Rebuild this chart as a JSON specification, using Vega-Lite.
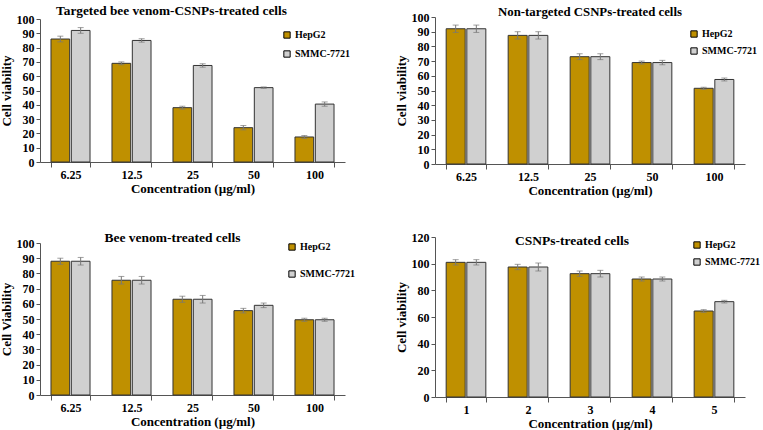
{
  "$schema": "https://vega.github.io/schema/vega-lite/v6.json",
  "background": "white",
  "padding": {"left": 0, "top": 3, "right": 3, "bottom": 1},
  "config": {
    "font": "Liberation Serif",
    "view": {"stroke": null},
    "axis": {"labelFont": "Liberation Serif", "labelFontWeight": "bold", "labelFontSize": 12, "labelColor": "#000", "titleFont": "Liberation Serif", "titleFontWeight": "bold", "titleFontSize": 13, "titleColor": "#000", "domainColor": "#555", "tickColor": "#555", "grid": false, "labelOverlap": false},
    "axisX": {"labelAngle": 0, "tickBand": "extent", "tickSize": 5, "labelPadding": 2, "titlePadding": 2},
    "axisY": {"tickSize": 4, "titlePadding": 3, "labelPadding": 2},
    "title": {"font": "Liberation Serif", "fontWeight": "bold", "fontSize": 13.5, "color": "#000"},
    "legend": {"labelFont": "Liberation Serif", "labelFontWeight": "bold", "labelFontSize": 10, "labelColor": "#000", "symbolType": "square", "symbolSize": 40, "symbolStrokeColor": "#000", "symbolStrokeWidth": 1, "title": null, "orient": "none", "labelOffset": 3}
  },
  "datasets": {
    "p1": [
      {"conc": "6.25", "cell": "HepG2", "v": 86, "lo": 84, "hi": 88},
      {"conc": "6.25", "cell": "SMMC-7721", "v": 92, "lo": 90, "hi": 94},
      {"conc": "12.5", "cell": "HepG2", "v": 69, "lo": 68, "hi": 70},
      {"conc": "12.5", "cell": "SMMC-7721", "v": 85, "lo": 83.8, "hi": 86.2},
      {"conc": "25", "cell": "HepG2", "v": 38, "lo": 37, "hi": 39},
      {"conc": "25", "cell": "SMMC-7721", "v": 67.5, "lo": 66.3, "hi": 68.7},
      {"conc": "50", "cell": "HepG2", "v": 24, "lo": 22.5, "hi": 25.5},
      {"conc": "50", "cell": "SMMC-7721", "v": 52, "lo": 51.5, "hi": 52.5},
      {"conc": "100", "cell": "HepG2", "v": 17.5, "lo": 16.5, "hi": 18.5},
      {"conc": "100", "cell": "SMMC-7721", "v": 40.5, "lo": 39, "hi": 42}
    ],
    "p2": [
      {"conc": "6.25", "cell": "HepG2", "v": 92, "lo": 89.5, "hi": 94.5},
      {"conc": "6.25", "cell": "SMMC-7721", "v": 92, "lo": 89.5, "hi": 94.5},
      {"conc": "12.5", "cell": "HepG2", "v": 87.5, "lo": 85, "hi": 90},
      {"conc": "12.5", "cell": "SMMC-7721", "v": 87.5, "lo": 85, "hi": 90},
      {"conc": "25", "cell": "HepG2", "v": 73, "lo": 71, "hi": 75},
      {"conc": "25", "cell": "SMMC-7721", "v": 73, "lo": 71, "hi": 75},
      {"conc": "50", "cell": "HepG2", "v": 69, "lo": 68, "hi": 70},
      {"conc": "50", "cell": "SMMC-7721", "v": 69, "lo": 67.5, "hi": 70.5},
      {"conc": "100", "cell": "HepG2", "v": 51.5, "lo": 50.8, "hi": 52.2},
      {"conc": "100", "cell": "SMMC-7721", "v": 57.5, "lo": 56.5, "hi": 58.5}
    ],
    "p3": [
      {"conc": "6.25", "cell": "HepG2", "v": 88, "lo": 86, "hi": 90},
      {"conc": "6.25", "cell": "SMMC-7721", "v": 88, "lo": 85.5, "hi": 90.5},
      {"conc": "12.5", "cell": "HepG2", "v": 75.5, "lo": 73, "hi": 78},
      {"conc": "12.5", "cell": "SMMC-7721", "v": 75.5, "lo": 73, "hi": 78},
      {"conc": "25", "cell": "HepG2", "v": 63, "lo": 61, "hi": 65},
      {"conc": "25", "cell": "SMMC-7721", "v": 63, "lo": 60.5, "hi": 65.5},
      {"conc": "50", "cell": "HepG2", "v": 55.5, "lo": 54, "hi": 57},
      {"conc": "50", "cell": "SMMC-7721", "v": 59, "lo": 57.5, "hi": 60.5},
      {"conc": "100", "cell": "HepG2", "v": 49.5, "lo": 48.5, "hi": 50.5},
      {"conc": "100", "cell": "SMMC-7721", "v": 49.5, "lo": 48.5, "hi": 50.5}
    ],
    "p4": [
      {"conc": "1", "cell": "HepG2", "v": 101, "lo": 99, "hi": 103},
      {"conc": "1", "cell": "SMMC-7721", "v": 101, "lo": 99, "hi": 103},
      {"conc": "2", "cell": "HepG2", "v": 97.5, "lo": 95.5, "hi": 99.5},
      {"conc": "2", "cell": "SMMC-7721", "v": 97.5, "lo": 94.5, "hi": 100.5},
      {"conc": "3", "cell": "HepG2", "v": 92.5, "lo": 90.5, "hi": 94.5},
      {"conc": "3", "cell": "SMMC-7721", "v": 92.5, "lo": 90, "hi": 95},
      {"conc": "4", "cell": "HepG2", "v": 88.5, "lo": 87, "hi": 90},
      {"conc": "4", "cell": "SMMC-7721", "v": 88.5, "lo": 87, "hi": 90},
      {"conc": "5", "cell": "HepG2", "v": 64.5, "lo": 63.5, "hi": 65.5},
      {"conc": "5", "cell": "SMMC-7721", "v": 71.5, "lo": 70.5, "hi": 72.5}
    ]
  },
  "columns": 2,
  "align": "each",
  "bounds": "flush",
  "spacing": {"row": 73, "column": 90},
  "resolve": {"scale": {"color": "independent", "x": "independent", "y": "independent", "xOffset": "independent"}, "legend": {"color": "independent"}},
  "concat": [
    {
      "width": 305, "height": 147,
      "data": {"name": "p1"},
      "title": {"text": "Targeted bee venom-CSNPs-treated cells", "anchor": "middle", "frame": "group", "dx": -21, "offset": -4, "fontSize": 13.3},
      "encoding": {
        "x": {"field": "conc", "type": "nominal", "sort": null, "scale": {"paddingInner": 0.36, "paddingOuter": 0.18}, "axis": {"title": "Concentration (µg/ml)", "offset": -2}},
        "xOffset": {"field": "cell", "type": "nominal", "scale": {"paddingInner": 0.08}}
      },
      "layer": [
        {"mark": {"type": "bar", "stroke": "#333", "strokeWidth": 1},
         "encoding": {
           "y": {"field": "v", "type": "quantitative", "scale": {"domain": [0, 100], "range": [145, 2]}, "axis": {"title": "Cell viability", "values": [0,10,20,30,40,50,60,70,80,90,100], "labelOverlap": false}},
           "color": {"field": "cell", "type": "nominal", "scale": {"domain": ["HepG2", "SMMC-7721"], "range": ["#BF9000", "#D0D0D0"]}, "legend": {"legendX": 242, "legendY": 13, "rowPadding": 7}}
         }},
        {"mark": {"type": "rule", "color": "#777", "strokeWidth": 1}, "encoding": {"y": {"field": "lo", "type": "quantitative", "axis": {"title": "Cell viability", "values": [0,10,20,30,40,50,60,70,80,90,100], "labelOverlap": false}}, "y2": {"field": "hi"}}},
        {"mark": {"type": "tick", "color": "#777", "size": 6, "thickness": 1}, "encoding": {"y": {"field": "lo", "type": "quantitative", "axis": {"title": "Cell viability", "values": [0,10,20,30,40,50,60,70,80,90,100], "labelOverlap": false}}}},
        {"mark": {"type": "tick", "color": "#777", "size": 6, "thickness": 1}, "encoding": {"y": {"field": "hi", "type": "quantitative", "axis": {"title": "Cell viability", "values": [0,10,20,30,40,50,60,70,80,90,100], "labelOverlap": false}}}}
      ]
    },
    {
      "width": 310, "height": 147,
      "data": {"name": "p2"},
      "title": {"text": "Non-targeted CSNPs-treated cells", "anchor": "middle", "frame": "group", "offset": -8, "fontSize": 12.8},
      "encoding": {
        "x": {"field": "conc", "type": "nominal", "sort": null, "scale": {"paddingInner": 0.36, "paddingOuter": 0.18}, "axis": {"title": "Concentration (µg/ml)"}},
        "xOffset": {"field": "cell", "type": "nominal", "scale": {"paddingInner": 0.08}}
      },
      "layer": [
        {"mark": {"type": "bar", "stroke": "#333", "strokeWidth": 1},
         "encoding": {
           "y": {"field": "v", "type": "quantitative", "scale": {"domain": [0, 100]}, "axis": {"title": "Cell viability", "values": [0,10,20,30,40,50,60,70,80,90,100], "labelOverlap": false}},
           "color": {"field": "cell", "type": "nominal", "scale": {"domain": ["HepG2", "SMMC-7721"], "range": ["#BF9000", "#D0D0D0"]}, "legend": {"legendX": 254, "legendY": 12, "rowPadding": 5}}
         }},
        {"mark": {"type": "rule", "color": "#777", "strokeWidth": 1}, "encoding": {"y": {"field": "lo", "type": "quantitative", "axis": {"title": "Cell viability", "values": [0,10,20,30,40,50,60,70,80,90,100], "labelOverlap": false}}, "y2": {"field": "hi"}}},
        {"mark": {"type": "tick", "color": "#777", "size": 6, "thickness": 1}, "encoding": {"y": {"field": "lo", "type": "quantitative", "axis": {"title": "Cell viability", "values": [0,10,20,30,40,50,60,70,80,90,100], "labelOverlap": false}}}},
        {"mark": {"type": "tick", "color": "#777", "size": 6, "thickness": 1}, "encoding": {"y": {"field": "hi", "type": "quantitative", "axis": {"title": "Cell viability", "values": [0,10,20,30,40,50,60,70,80,90,100], "labelOverlap": false}}}}
      ]
    },
    {
      "width": 305, "height": 160,
      "data": {"name": "p3"},
      "title": {"text": "Bee venom-treated  cells", "anchor": "middle", "frame": "group", "dx": -20, "offset": -7},
      "encoding": {
        "x": {"field": "conc", "type": "nominal", "sort": null, "scale": {"paddingInner": 0.36, "paddingOuter": 0.18}, "axis": {"title": "Concentration (µg/ml)", "offset": -2}},
        "xOffset": {"field": "cell", "type": "nominal", "scale": {"paddingInner": 0.08}}
      },
      "layer": [
        {"mark": {"type": "bar", "stroke": "#333", "strokeWidth": 1},
         "encoding": {
           "y": {"field": "v", "type": "quantitative", "scale": {"domain": [0, 100], "range": [158, 6]}, "axis": {"title": "Cell Viability", "values": [0,10,20,30,40,50,60,70,80,90,100], "labelOverlap": false}},
           "color": {"field": "cell", "type": "nominal", "scale": {"domain": ["HepG2", "SMMC-7721"], "range": ["#BF9000", "#D0D0D0"]}, "legend": {"legendX": 247, "legendY": 5, "rowPadding": 15}}
         }},
        {"mark": {"type": "rule", "color": "#777", "strokeWidth": 1}, "encoding": {"y": {"field": "lo", "type": "quantitative", "axis": {"title": "Cell Viability", "values": [0,10,20,30,40,50,60,70,80,90,100], "labelOverlap": false}}, "y2": {"field": "hi"}}},
        {"mark": {"type": "tick", "color": "#777", "size": 6, "thickness": 1}, "encoding": {"y": {"field": "lo", "type": "quantitative", "axis": {"title": "Cell Viability", "values": [0,10,20,30,40,50,60,70,80,90,100], "labelOverlap": false}}}},
        {"mark": {"type": "tick", "color": "#777", "size": 6, "thickness": 1}, "encoding": {"y": {"field": "hi", "type": "quantitative", "axis": {"title": "Cell Viability", "values": [0,10,20,30,40,50,60,70,80,90,100], "labelOverlap": false}}}}
      ]
    },
    {
      "width": 310, "height": 160,
      "data": {"name": "p4"},
      "title": {"text": "CSNPs-treated cells", "anchor": "middle", "frame": "group", "dx": -18, "offset": -16},
      "encoding": {
        "x": {"field": "conc", "type": "nominal", "sort": null, "scale": {"paddingInner": 0.36, "paddingOuter": 0.18}, "axis": {"title": "Concentration (µg/ml)"}},
        "xOffset": {"field": "cell", "type": "nominal", "scale": {"paddingInner": 0.08}}
      },
      "layer": [
        {"mark": {"type": "bar", "stroke": "#333", "strokeWidth": 1},
         "encoding": {
           "y": {"field": "v", "type": "quantitative", "scale": {"domain": [0, 120]}, "axis": {"title": "Cell viability", "values": [0,20,40,60,80,100,120], "labelOverlap": false}},
           "color": {"field": "cell", "type": "nominal", "scale": {"domain": ["HepG2", "SMMC-7721"], "range": ["#BF9000", "#D0D0D0"]}, "legend": {"legendX": 257, "legendY": 3, "rowPadding": 5}}
         }},
        {"mark": {"type": "rule", "color": "#777", "strokeWidth": 1}, "encoding": {"y": {"field": "lo", "type": "quantitative", "axis": {"title": "Cell viability", "values": [0,20,40,60,80,100,120], "labelOverlap": false}}, "y2": {"field": "hi"}}},
        {"mark": {"type": "tick", "color": "#777", "size": 6, "thickness": 1}, "encoding": {"y": {"field": "lo", "type": "quantitative", "axis": {"title": "Cell viability", "values": [0,20,40,60,80,100,120], "labelOverlap": false}}}},
        {"mark": {"type": "tick", "color": "#777", "size": 6, "thickness": 1}, "encoding": {"y": {"field": "hi", "type": "quantitative", "axis": {"title": "Cell viability", "values": [0,20,40,60,80,100,120], "labelOverlap": false}}}}
      ]
    }
  ]
}
